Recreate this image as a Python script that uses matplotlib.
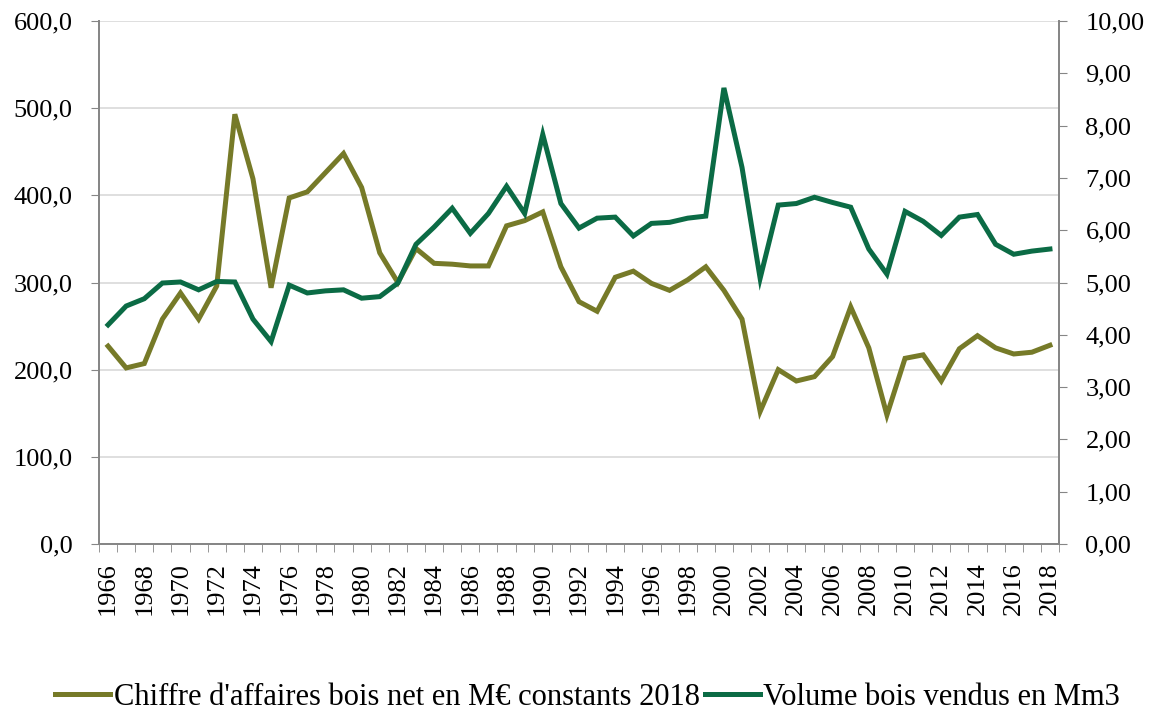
import numpy as np
import matplotlib.pyplot as plt
from matplotlib.ticker import FixedLocator, FuncFormatter

years = list(range(1966, 2019))

chiffre = [227, 202, 207, 258, 288, 258, 296, 493, 419, 294,
           397, 404, 426, 448, 409, 334, 300, 339, 322, 321,
           319, 319, 365, 371, 381, 318, 278, 267, 306, 313,
           299, 291, 303, 318, 291, 258, 152, 200, 187, 192,
           215, 272, 225, 148, 213, 217, 187, 224, 239, 225,
           218, 220, 228]

volume = [4.19, 4.55, 4.69, 4.99, 5.01, 4.86, 5.02, 5.01, 4.30, 3.87,
          4.95, 4.80, 4.84, 4.86, 4.70, 4.73, 4.99, 5.73, 6.06, 6.42,
          5.94, 6.32, 6.84, 6.32, 7.83, 6.51, 6.04, 6.23, 6.25, 5.89,
          6.13, 6.15, 6.23, 6.27, 8.72, 7.20, 5.08, 6.48, 6.51, 6.63,
          6.53, 6.44, 5.64, 5.16, 6.36, 6.17, 5.90, 6.25, 6.30, 5.73,
          5.54, 5.60, 5.64]

label_chiffre = "Chiffre d'affaires bois net en M€ constants 2018"
label_volume = "Volume bois vendus en Mm3"

olive = '#767A28'
green = '#0B6B45'
axis_grey = '#868686'

plt.rcParams['font.family'] = ['Liberation Serif', 'DejaVu Serif']
fs = 19

fig = plt.figure(figsize=(11.57, 7.13), dpi=100)
# axes box: x 99..1059 px, y 21..544 px
ax = fig.add_axes([99 / 1157, 1 - 544 / 713, 960 / 1157, 523 / 713])
ax2 = ax.twinx()

x = np.arange(len(years))
l1, = ax.plot(x, chiffre, color=olive, lw=3.6, solid_joinstyle='miter', label=label_chiffre)
l2, = ax2.plot(x, volume, color=green, lw=3.6, solid_joinstyle='miter', label=label_volume)

ax.set_xlim(-0.5, len(years) - 0.5)
ax.set_ylim(0, 600)
ax2.set_ylim(0, 10)

ax.set_yticks(np.arange(0, 601, 100))
ax.yaxis.set_major_formatter(FuncFormatter(lambda v, p: f'{v:.1f}'.replace('.', ',')))
ax2.set_yticks(np.arange(0, 10.01, 1))
ax2.yaxis.set_major_formatter(FuncFormatter(lambda v, p: f'{v:.2f}'.replace('.', ',')))

ax.set_xticks(x[::2])
ax.set_xticklabels([str(y) for y in years[::2]], rotation=90)
ax.xaxis.set_minor_locator(FixedLocator(np.arange(-0.5, len(years), 1)))
ax.tick_params(axis='x', which='major', length=0, pad=13, labelsize=fs)
ax.tick_params(axis='x', which='minor', length=6, color=axis_grey, direction='out')
ax.tick_params(axis='y', length=6, color=axis_grey, labelsize=fs, pad=13)
ax2.tick_params(axis='y', length=6, color=axis_grey, labelsize=fs, pad=13)

ax.grid(axis='y', color='#D9D9D9', lw=1.2)
ax.set_axisbelow(True)

for a in (ax, ax2):
    a.spines['top'].set_visible(False)
    for side in ('left', 'right', 'bottom'):
        a.spines[side].set_color(axis_grey)
        a.spines[side].set_linewidth(1.3)

ax2.set_zorder(ax.get_zorder() + 1)
ax2.patch.set_visible(False)

fig.legend([l1, l2], [label_chiffre, label_volume], loc='center', bbox_to_anchor=(0.508, 0.022),
           ncol=2, frameon=False, fontsize=22, handlelength=1.8, handletextpad=0.12,
           columnspacing=0.15, borderpad=0, borderaxespad=0)

fig.savefig('out.png', dpi=100)
